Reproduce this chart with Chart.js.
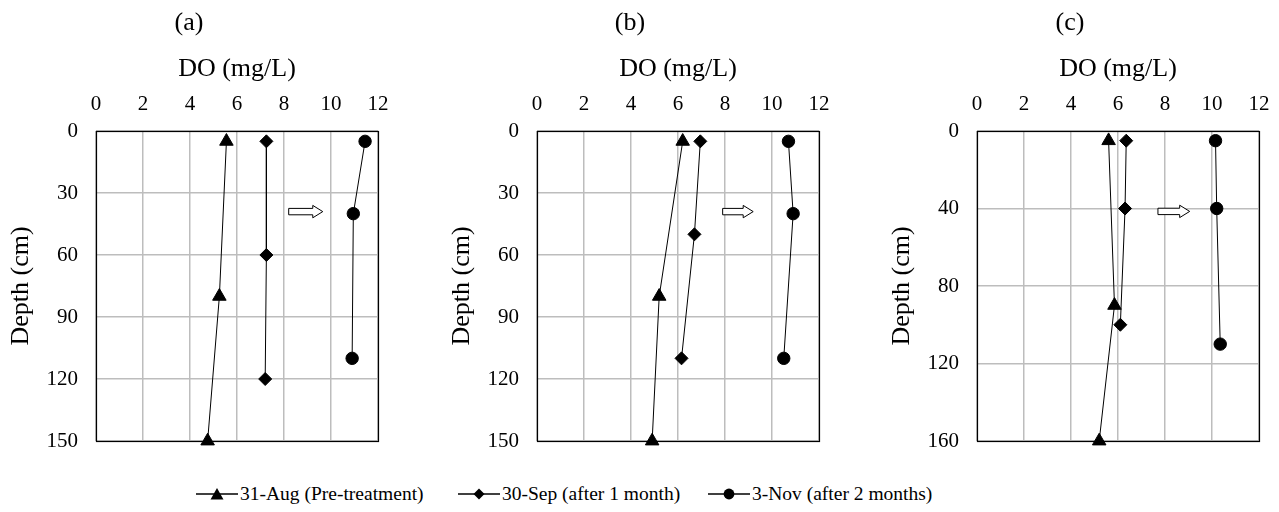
<!DOCTYPE html>
<html><head><meta charset="utf-8">
<script src="https://cdn.jsdelivr.net/npm/chart.js@4.4.1/dist/chart.umd.min.js"></script>
<style>
html,body{margin:0;padding:0;background:#fff;overflow:hidden;width:1279px;height:512px;position:relative;}
canvas.panel{position:absolute;top:0;}
.lg{position:absolute;top:482px;height:24px;display:flex;align-items:center;font-family:'Liberation Serif','Times New Roman','DejaVu Serif',serif;font-size:19.5px;color:#000;white-space:nowrap;}
.lg svg{margin-right:2px;}
</style></head><body>
<canvas id="c0" class="panel" width="452" height="457" style="left:0px"></canvas>
<canvas id="c1" class="panel" width="452" height="457" style="left:441px"></canvas>
<canvas id="c2" class="panel" width="452" height="457" style="left:881px"></canvas>
<div id="legendHost"></div>
<script>
const FONT = "'Liberation Serif', 'Times New Roman', 'DejaVu Serif', serif";
const panelTitles = ['(a)', '(b)', '(c)'];
const seriesLabels = ['31-Aug (Pre-treatment)', '30-Sep (after 1 month)', '3-Nov (after 2 months)'];
const xAxisTitle = 'DO (mg/L)';
const yAxisTitle = 'Depth (cm)';
const doTicks = [0, 2, 4, 6, 8, 10, 12];
const depthTicksA = [0, 30, 60, 90, 120, 150];
const depthTicksB = [0, 30, 60, 90, 120, 150];
const depthTicksC = [0, 40, 80, 120, 160];

// Panel (a)
const aAugDO = [5.55, 5.25, 4.75];   const aAugDepth = [5, 80, 150];
const aSepDO = [7.25, 7.25, 7.2];    const aSepDepth = [5, 60, 120];
const aNovDO = [11.45, 10.95, 10.9]; const aNovDepth = [5, 40, 110];
// Panel (b)
const bAugDO = [6.2, 5.2, 4.9];      const bAugDepth = [5, 80, 150];
const bSepDO = [6.95, 6.7, 6.15];    const bSepDepth = [5, 50, 110];
const bNovDO = [10.7, 10.9, 10.5];   const bNovDepth = [5, 40, 110];
// Panel (c)
const cAugDO = [5.6, 5.85, 5.2];     const cAugDepth = [5, 90, 160];
const cSepDO = [6.35, 6.3, 6.1];     const cSepDepth = [5, 40, 100];
const cNovDO = [10.15, 10.2, 10.35]; const cNovDepth = [5, 40, 110];

// hollow arrows (DO from -> to, at depth)
const arrowFrom = [8.2, 7.9, 7.7];
const arrowTo = [9.65, 9.2, 9.05];
const arrowDepth = [39, 39, 41.5];

const pts = (xs, ys) => xs.map((x, i) => ({x: x, y: ys[i]}));
const panels = [
  {aug: pts(aAugDO, aAugDepth), sep: pts(aSepDO, aSepDepth), nov: pts(aNovDO, aNovDepth), yt: depthTicksA},
  {aug: pts(bAugDO, bAugDepth), sep: pts(bSepDO, bSepDepth), nov: pts(bNovDO, bNovDepth), yt: depthTicksB},
  {aug: pts(cAugDO, cAugDepth), sep: pts(cSepDO, cSepDepth), nov: pts(cNovDO, cNovDepth), yt: depthTicksC}
];
const markerStyles = ['triangle', 'rectRot', 'circle'];
const markerRadius = [7.8, 6.5, 6.2];

const frameAndArrow = {
  id: 'frameAndArrow',
  afterDatasetsDraw(chart, args, opts) {
    const ctx = chart.ctx;
    const i = opts.idx;
    const xs = chart.scales.x, ys = chart.scales.y;
    const x0 = xs.getPixelForValue(arrowFrom[i]);
    const x1 = xs.getPixelForValue(arrowTo[i]);
    const y = ys.getPixelForValue(arrowDepth[i]);
    const sh = 3.2, hh = 6.2, hl = 10;
    ctx.save();
    ctx.beginPath();
    ctx.moveTo(x0, y - sh);
    ctx.lineTo(x1 - hl, y - sh);
    ctx.lineTo(x1 - hl, y - hh);
    ctx.lineTo(x1, y);
    ctx.lineTo(x1 - hl, y + hh);
    ctx.lineTo(x1 - hl, y + sh);
    ctx.lineTo(x0, y + sh);
    ctx.closePath();
    ctx.fillStyle = '#fff';
    ctx.fill();
    ctx.strokeStyle = '#000';
    ctx.lineWidth = 1;
    ctx.stroke();
    ctx.restore();
  },
  beforeDatasetsDraw(chart) {
    const ctx = chart.ctx, a = chart.chartArea;
    ctx.save();
    ctx.strokeStyle = '#000';
    ctx.lineWidth = 1.2;
    ctx.strokeRect(Math.round(a.left) + 0.5, Math.round(a.top) + 0.5,
                   Math.round(a.right - a.left), Math.round(a.bottom - a.top));
    ctx.restore();
  }
};

panels.forEach((p, i) => {
  const yt = p.yt;
  const mk = (data, k) => ({
    label: seriesLabels[k], data: data, showLine: true,
    borderColor: '#000', borderWidth: 1, backgroundColor: '#000',
    pointStyle: markerStyles[k], pointRadius: markerRadius[k],
    pointBorderColor: '#000', pointBackgroundColor: '#000', pointBorderWidth: 1,
    clip: false, tension: 0
  });
  new Chart(document.getElementById('c' + i), {
    type: 'line',
    data: {datasets: [mk(p.aug, 0), mk(p.sep, 1), mk(p.nov, 2)]},
    options: {
      responsive: false, animation: false, devicePixelRatio: 1,
      layout: {padding: {left: 0, right: 74, top: 0, bottom: 16}},
      plugins: {
        legend: {display: false}, tooltip: {enabled: false},
        title: {display: true, text: panelTitles[i], color: '#000',
          font: {family: FONT, size: 26, weight: 'normal'}, padding: {top: 8, bottom: 7}},
        frameAndArrow: {idx: i}
      },
      scales: {
        x: {
          type: 'linear', position: 'top', min: doTicks[0], max: doTicks[doTicks.length - 1],
          afterBuildTicks: s => { s.ticks = doTicks.map(v => ({value: v})); },
          ticks: {padding: 14, color: '#000', font: {family: FONT, size: 21}},
          grid: {color: '#bdbdbd', lineWidth: 1.5, drawTicks: false},
          border: {display: false},
          title: {display: true, text: xAxisTitle, color: '#000',
            font: {family: FONT, size: 26}, padding: {top: 7, bottom: 0}},
          afterFit: s => { s.height = 84.8; s.paddingLeft = 0; s.paddingRight = 0; }
        },
        y: {
          type: 'linear', reverse: true, min: yt[0], max: yt[yt.length - 1],
          afterBuildTicks: s => { s.ticks = yt.map(v => ({value: v})); },
          ticks: {padding: 18, color: '#000', font: {family: FONT, size: 21}},
          grid: {color: '#bdbdbd', lineWidth: 1.5, drawTicks: false},
          border: {display: false},
          title: {display: true, text: yAxisTitle, color: '#000',
            font: {family: FONT, size: 26}, padding: {top: 6, bottom: 0}},
          afterFit: s => { s.width = 96; s.paddingTop = 0; s.paddingBottom = 0; }
        }
      }
    },
    plugins: [frameAndArrow]
  });
});

// legend
const legendLeft = [196, 458, 708];
const host = document.getElementById('legendHost');
const markerSvg = [
  '<polygon points="21,3 27.5,14.5 14.5,14.5" fill="#000"/>',
  '<polygon points="21,3.5 26.5,9 21,14.5 15.5,9" fill="#000"/>',
  '<circle cx="21" cy="9" r="5.4" fill="#000"/>'
];
seriesLabels.forEach((lab, k) => {
  const d = document.createElement('div');
  d.className = 'lg';
  d.style.left = legendLeft[k] + 'px';
  d.innerHTML = '<svg width="42" height="18" viewBox="0 0 42 18"><line x1="0" y1="9" x2="42" y2="9" stroke="#000" stroke-width="1.3"/>' +
    markerSvg[k] + '</svg>';
  const s = document.createElement('span');
  s.textContent = lab;
  d.appendChild(s);
  host.appendChild(d);
});
</script>
</body></html>
